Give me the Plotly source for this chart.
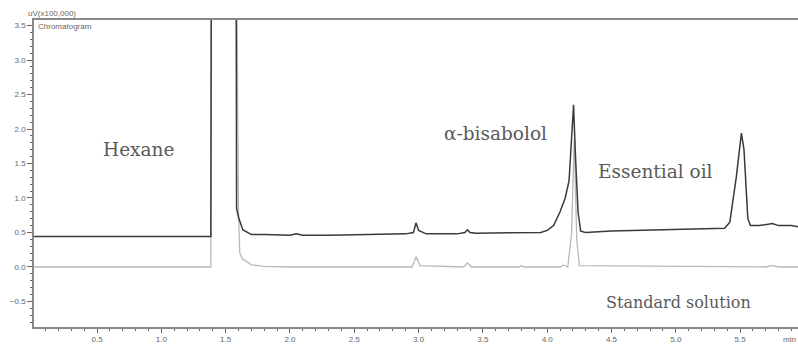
import plotly.graph_objects as go

# Essential oil trace (time in min, signal in uV x100,000)
oil_t = [0.0, 1.385, 1.39, 1.58, 1.585, 1.60, 1.633, 1.70, 1.8, 1.9, 2.0, 2.05, 2.1, 2.3, 2.5, 2.7, 2.9,
         2.96, 2.98, 3.0, 3.03, 3.06, 3.3, 3.36, 3.38, 3.4, 3.45, 3.6, 3.8, 3.95, 4.0, 4.05, 4.1, 4.14,
         4.17, 4.19, 4.205, 4.22, 4.24, 4.26, 4.3, 4.5, 4.7, 5.0, 5.2, 5.38, 5.42, 5.47, 5.51, 5.53, 5.56,
         5.58, 5.65, 5.75, 5.8, 5.9, 5.96]
oil_v = [0.44, 0.44, 6.0, 6.0, 0.85, 0.72, 0.54, 0.47, 0.47, 0.46, 0.46, 0.48, 0.46, 0.46, 0.47, 0.48, 0.48,
         0.50, 0.64, 0.53, 0.50, 0.48, 0.48, 0.50, 0.54, 0.50, 0.49, 0.49, 0.50, 0.50, 0.53, 0.60, 0.80, 1.00,
         1.25, 1.80, 2.35, 1.60, 0.80, 0.52, 0.50, 0.52, 0.53, 0.55, 0.55, 0.56, 0.65, 1.30, 1.94, 1.70, 0.70,
         0.60, 0.60, 0.63, 0.60, 0.60, 0.58]

# Standard solution trace
std_t = [0.0, 1.385, 1.39, 1.58, 1.60, 1.61, 1.63, 1.70, 1.8, 2.0, 2.95, 2.98, 3.01, 3.35, 3.38, 3.41,
         3.78, 3.80, 3.82, 4.10, 4.13, 4.16, 4.19, 4.21, 4.23, 4.25, 5.70, 5.75, 5.80, 5.96]
std_v = [0.0, 0.0, 6.0, 6.0, 0.80, 0.20, 0.12, 0.03, 0.01, 0.0, 0.0, 0.15, 0.02, 0.0, 0.06, 0.0,
         0.0, 0.02, 0.0, 0.0, 0.03, 0.0, 0.50, 1.85, 0.40, 0.02, 0.0, 0.02, 0.0, 0.0]

labels = ["Hexane", "α-bisabolol", "Essential oil", "Standard solution"]
label_x = [0.82, 3.60, 4.84, 5.02]
label_y = [1.71, 1.94, 1.38, -0.51]
label_size = [18.5, 18.5, 18.5, 16]

SERIF = "DejaVu Serif"

fig = go.Figure()
fig.add_trace(go.Scatter(x=std_t, y=std_v, mode="lines",
                         line=dict(color="#b8b8b8", width=1.3), showlegend=False))
fig.add_trace(go.Scatter(x=oil_t, y=oil_v, mode="lines",
                         line=dict(color="#3a3a3a", width=1.5), showlegend=False))

for txt, x, y, s in zip(labels, label_x, label_y, label_size):
    fig.add_annotation(x=x, y=y, xref="x", yref="y", text=txt, showarrow=False,
                       font=dict(family=SERIF, size=s, color="#5a5a5a"))

fig.add_annotation(x=-0.01, y=1.0, xref="paper", yref="paper", text="uV(x100,000)",
                   showarrow=False, xanchor="left", yanchor="bottom",
                   font=dict(family="Arial", size=8, color="#666666"))
fig.add_annotation(x=0.002, y=1.0, xref="paper", yref="paper", text="Chromatogram",
                   showarrow=False, xanchor="left", yanchor="top",
                   font=dict(family="Arial", size=8, color="#666666"))
fig.add_annotation(x=1.0, y=-0.02, xref="paper", yref="paper", text="min",
                   showarrow=False, xanchor="right", yanchor="top",
                   font=dict(family="Arial", size=8, color="#666666"))

fig.update_layout(
    width=798, height=344,
    margin=dict(l=34, r=0, t=20, b=17),
    paper_bgcolor="white", plot_bgcolor="white",
    xaxis=dict(range=[0.01, 5.95], tick0=0, dtick=0.5, ticks="outside", ticklen=4,
               tickcolor="#666666", showgrid=False, zeroline=False, showline=True,
               linecolor="#888888", linewidth=1.5, mirror=True,
               tickfont=dict(family="Arial", size=8, color="#666666"),
               tickformat=".1f",
               minor=dict(dtick=0.1, ticks="outside", ticklen=2, tickcolor="#666666")),
    yaxis=dict(range=[-0.87, 3.58], tick0=0, dtick=0.5, ticks="outside", ticklen=5,
               tickcolor="#666666", showgrid=False, zeroline=False, showline=True,
               linecolor="#888888", linewidth=1.5,
               tickfont=dict(family="Arial", size=8, color="#666666"),
               tickformat=".1f",
               minor=dict(dtick=0.1, ticks="outside", ticklen=2, tickcolor="#666666")),
)

fig.write_html("out.html")
